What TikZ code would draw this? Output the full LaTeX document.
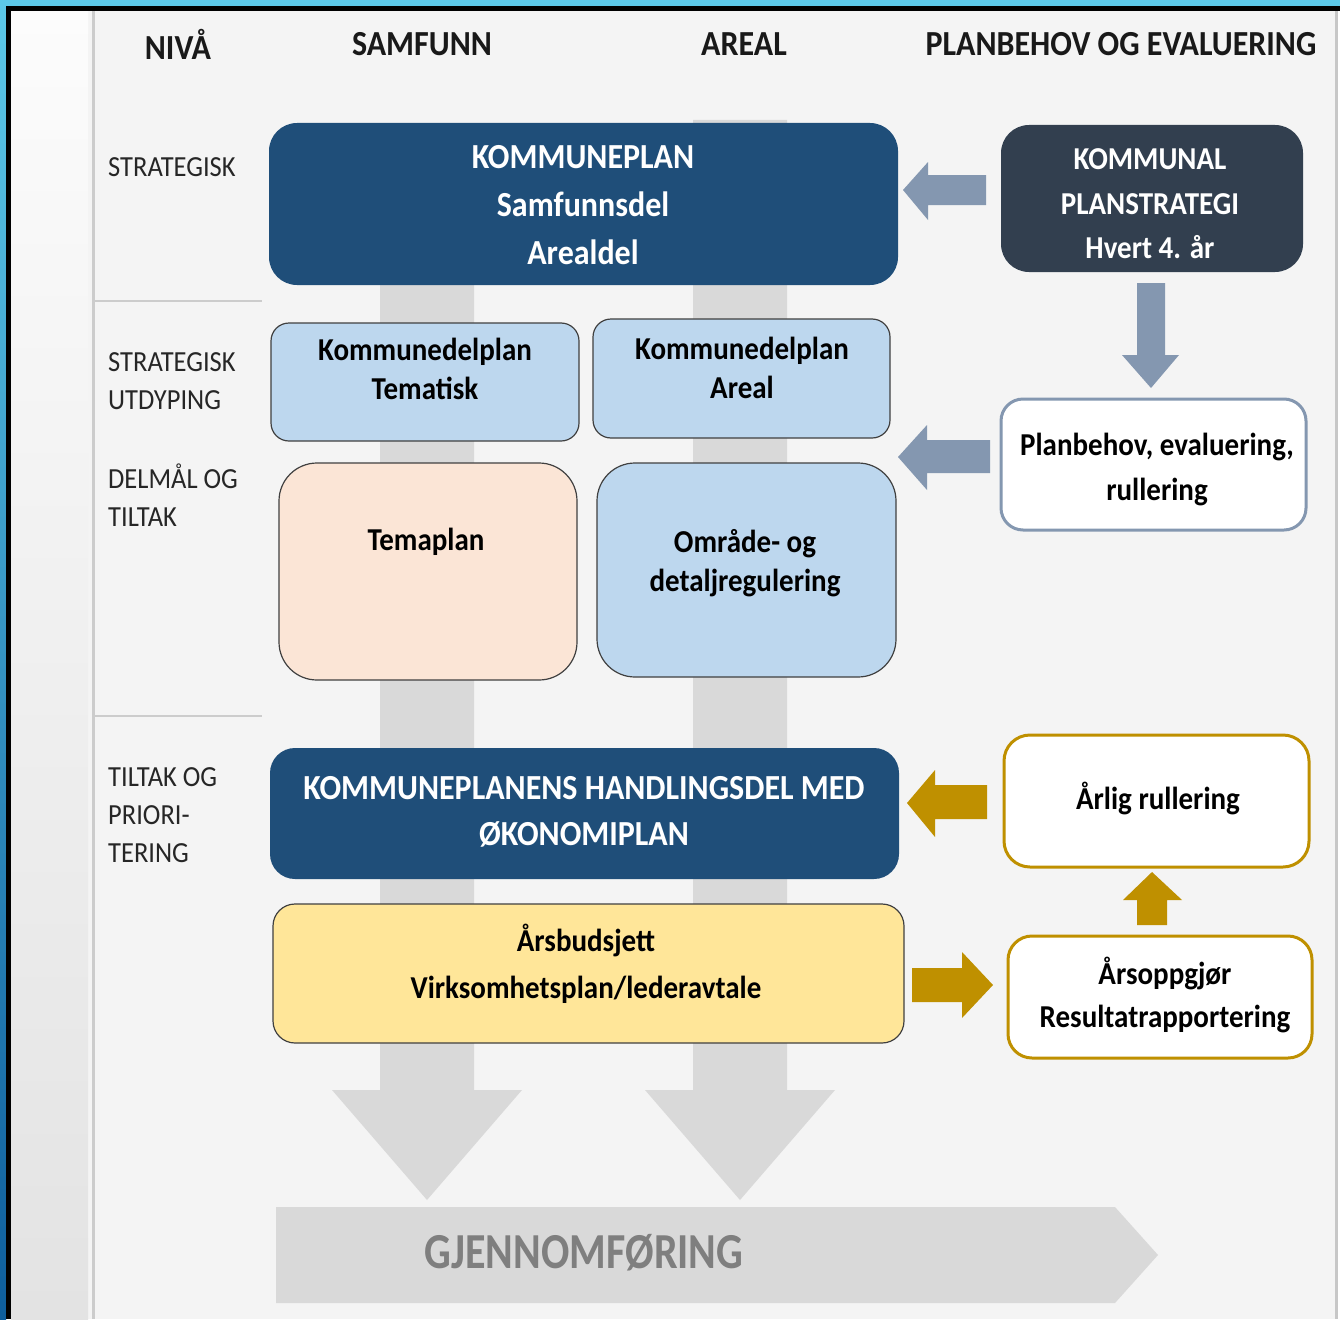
\documentclass[tikz,border=0pt]{standalone}
\usepackage{fontspec}
\setmainfont{Carlito}
\usepackage{graphicx}
\definecolor{dblue}{HTML}{1F4E79}
\definecolor{slate}{HTML}{323F4F}
\definecolor{lblue}{HTML}{BDD7EE}
\definecolor{peach}{HTML}{FBE5D6}
\definecolor{lyellow}{HTML}{FFE699}
\definecolor{arrblue}{HTML}{8497B0}
\definecolor{gold}{HTML}{BF9000}
\definecolor{barg}{HTML}{D9D9D9}
\definecolor{bgc}{HTML}{F4F4F4}
\definecolor{cyanf}{HTML}{5CC8E8}
\definecolor{deepb}{HTML}{0E5E9C}
\definecolor{sepg}{HTML}{CCCCCC}
\definecolor{txtg}{HTML}{7F7F7F}
\newcommand\vs[1]{\scalebox{1}[1.1]{#1}}
\begin{document}
\begin{tikzpicture}[x=1pt,y=-1pt,
  shp/.style={inner sep=0pt, outer sep=0pt},
  darkbox/.style={shp, fill=dblue, rounded corners=#1},
  slatebox/.style={shp, fill=slate, rounded corners=#1},
  lightbox/.style={shp, draw=black!75, line width=1.2pt, rounded corners=#1},
  bluewhite/.style={shp, fill=white, draw=arrblue, line width=3pt, rounded corners=#1},
  goldwhite/.style={shp, fill=white, draw=gold, line width=3pt, rounded corners=#1},
  wtxt/.style={text=white, font=\bfseries\fontsize{32}{48}\selectfont, align=center, inner sep=0pt},
  btxt/.style={text=black, font=\bfseries\fontsize{29}{39}\selectfont, align=center, inner sep=0pt},
  head/.style={text=black!90, font=\bfseries\fontsize{32}{38}\selectfont, inner sep=0pt},
  lvl/.style={text=black!85, font=\fontsize{26.5}{38}\selectfont, align=left, anchor=west, inner sep=0pt},
  blockarrow/.style={fill=#1}
]
\useasboundingbox (0,0) rectangle (1340,1319);
% background and frame
\fill[bgc] (0,0) rectangle (1340,1319);
\shade[top color=white!60!black!3, bottom color=black!11] (11,11) rectangle (88,1319);
\fill[sepg] (92,11) rectangle (94.5,1319);
\fill[black!22] (1335,11) rectangle (1338,1319);
\fill[white] (1338,11) rectangle (1340,1319);
\fill[cyanf] (0,0) rectangle (1340,6);
\shade[top color=cyanf, bottom color=deepb] (0,0) rectangle (6,1319);
\fill[black] (6,6) rectangle (1340,11);
\fill[black] (6,6) rectangle (11,1319);
\draw[sepg, line width=2pt] (95,301) -- (262,301);
\draw[sepg, line width=2pt] (95,716) -- (262,716);

% headers
\node[head] (hniva) at (178,44) {\vs{NIVÅ}};
\node[head] (hsam) at (422,44) {\vs{SAMFUNN}};
\node[head] (hareal) at (744,44) {\vs{AREAL}};
\node[head] (hplan) at (1121,44) {\vs{PLANBEHOV OG EVALUERING}};

% level labels
\node[lvl] (l1) at (108,167) {\vs{STRATEGISK}};
\node[lvl] (l2) at (108,381) {\vs{STRATEGISK}\\\vs{UTDYPING}};
\node[lvl] (l3) at (108,495) {\vs{DELMÅL OG}\\\vs{TILTAK}};
\node[lvl] (l4) at (108,815) {\vs{TILTAK OG}\\\vs{PRIORI-}\\\vs{TERING}};

% grey flow bars
\fill[barg] (380,125) -- (474,125) -- (474,1090) -- (522,1090) -- (427,1200) -- (332,1090) -- (380,1090) -- cycle;
\fill[barg] (693,120) -- (787,120) -- (787,1090) -- (835,1090) -- (740,1200) -- (645,1090) -- (693,1090) -- cycle;
\fill[barg] (276,1207) -- (1115,1207) -- (1158,1255) -- (1115,1303) -- (276,1303) -- cycle;
\node[text=txtg, font=\bfseries\fontsize{42}{50}\selectfont, inner sep=0pt] (gj) at (584,1253) {\scalebox{1}[1.2]{GJENNOMFØRING}};

% boxes
\node[darkbox=28pt, minimum width=629pt, minimum height=162pt] (kp) at (583.5,204) {};
\node[slatebox=28pt, minimum width=302pt, minimum height=147pt] (ks) at (1152,198.5) {};
\node[lightbox=18pt, fill=lblue, minimum width=308pt, minimum height=118pt] (kdt) at (425,382) {};
\node[lightbox=18pt, fill=lblue, minimum width=297pt, minimum height=119pt] (kda) at (741.5,378.5) {};
\node[lightbox=38pt, fill=peach, minimum width=298pt, minimum height=217pt] (tp) at (428,571.5) {};
\node[lightbox=38pt, fill=lblue, minimum width=299pt, minimum height=214pt] (od) at (746.5,570) {};
\node[bluewhite=22pt, minimum width=305pt, minimum height=131pt] (pb) at (1153.5,464.5) {};
\node[darkbox=25pt, minimum width=629pt, minimum height=131pt] (hd) at (584.5,813.5) {};
\node[lightbox=22pt, fill=lyellow, minimum width=631pt, minimum height=139pt] (ab) at (588.5,973.5) {};
\node[goldwhite=26pt, minimum width=305pt, minimum height=132pt] (ar) at (1156.5,801) {};
\node[goldwhite=24pt, minimum width=304pt, minimum height=122pt] (ao) at (1160,997) {};

% box texts
\node[wtxt] (tkp) at (583,205) {\vs{KOMMUNEPLAN}\\\vs{Samfunnsdel}\\\vs{Arealdel}};
\node[wtxt, font=\bfseries\fontsize{29}{44.5}\selectfont] (tks) at (1150,204) {\vs{KOMMUNAL}\\\vs{PLANSTRATEGI}\\\vs{Hvert 4. år}};
\node[btxt] (tkdt) at (425,368.5) {\vs{Kommunedelplan}\\\vs{Tematisk}};
\node[btxt] (tkda) at (742,367.5) {\vs{Kommunedelplan}\\\vs{Areal}};
\node[btxt] (ttp) at (426,542) {\vs{Temaplan}};
\node[btxt] (tod) at (745,563.5) {\vs{Område- og}\\\vs{detaljregulering}};
\node[btxt, font=\bfseries\fontsize{29}{45}\selectfont] (tpb) at (1157,469.5) {\vs{Planbehov, evaluering,}\\\vs{rullering}};
\node[wtxt, font=\bfseries\fontsize{32}{46}\selectfont] (thd) at (584,812) {\vs{KOMMUNEPLANENS HANDLINGSDEL MED}\\\vs{ØKONOMIPLAN}};
\node[btxt, font=\bfseries\fontsize{29}{47}\selectfont] (tab) at (586,963.5) {\vs{Årsbudsjett}\\\vs{Virksomhetsplan/lederavtale}};
\node[btxt] (tar) at (1158,798) {\vs{Årlig rullering}};
\node[btxt, font=\bfseries\fontsize{29}{43}\selectfont] (tao) at (1165,994.5) {\vs{Årsoppgjør}\\\vs{Resultatrapportering}};

% block arrows
\fill[blockarrow=arrblue] (986,175) -- (928,175) -- (928,162) -- (903,190) -- (928,220) -- (928,205) -- (986,205) -- cycle;
\fill[blockarrow=arrblue] (1137,283) -- (1165,283) -- (1165,355) -- (1179,355) -- (1151,388) -- (1122,355) -- (1137,355) -- cycle;
\fill[blockarrow=arrblue] (990,440) -- (927,440) -- (927,425) -- (898,457) -- (927,490) -- (927,473) -- (990,473) -- cycle;
\fill[blockarrow=gold] (987,785) -- (935,785) -- (935,770) -- (907,803) -- (935,837) -- (935,819) -- (987,819) -- cycle;
\fill[blockarrow=gold] (1137,925) -- (1137,900) -- (1123,900) -- (1152,872) -- (1182,900) -- (1167,900) -- (1167,925) -- cycle;
\fill[blockarrow=gold] (912,968) -- (962,968) -- (962,952) -- (993,985) -- (962,1018) -- (962,1002) -- (912,1002) -- cycle;
\end{tikzpicture}
\end{document}
